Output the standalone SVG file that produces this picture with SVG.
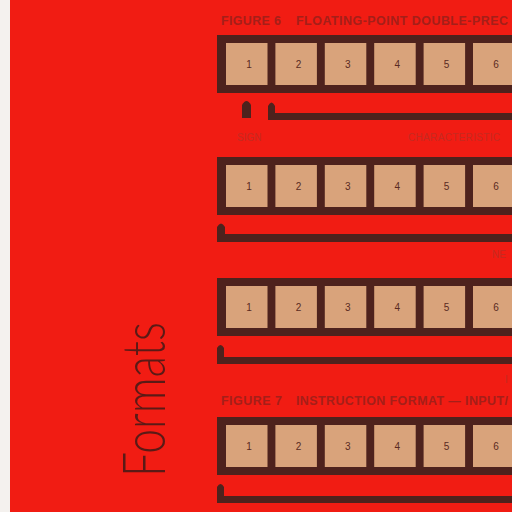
<svg xmlns="http://www.w3.org/2000/svg" width="512" height="512" viewBox="0 0 512 512">
<style>
.frame{fill:#4e221d}
.cell{fill:#d9a37b}
.num{font-family:"Liberation Sans",Arial,sans-serif;font-size:10px;fill:#5a2a22;text-anchor:middle}
.title{font-family:"Liberation Sans",Arial,sans-serif;font-size:12.5px;font-weight:bold;fill:#a51f19}
.lbl{font-family:"Liberation Sans",Arial,sans-serif;font-size:10px;fill:#c62a20}
.conn{fill:#4e221d}
</style>
<defs>
<g id="row">
<rect class="frame" x="217" y="0" width="300" height="58"/>
<rect class="cell" x="226" y="8" width="41.5" height="42"/>
<rect class="cell" x="275.4" y="8" width="41.5" height="42"/>
<rect class="cell" x="324.8" y="8" width="41.5" height="42"/>
<rect class="cell" x="374.2" y="8" width="41.5" height="42"/>
<rect class="cell" x="423.6" y="8" width="41.5" height="42"/>
<rect class="cell" x="473" y="8" width="41.5" height="42"/>
</g>
</defs>
<rect x="0" y="0" width="512" height="512" fill="#f11c13"/>
<rect x="0" y="0" width="10" height="512" fill="#f4f1ee"/>
<text class="title" x="221" y="25" textLength="60">FIGURE 6</text>
<text class="title" x="296" y="25" textLength="212">FLOATING-POINT DOUBLE-PREC</text>
<text class="title" x="221" y="405" textLength="61">FIGURE 7</text>
<text class="title" x="296" y="405" textLength="212">INSTRUCTION FORMAT — INPUT/</text>
<g id="word-formats">
<text transform="translate(165,477) rotate(-90)" font-family="Lato,'Liberation Sans',sans-serif" font-weight="300" font-size="60" fill="#5a1a16" textLength="155" lengthAdjust="spacingAndGlyphs">Formats</text>
</g>
<g id="register-1" transform="translate(0,35)">
<use href="#row"/>
<text class="num" x="249" y="33">1</text><text class="num" x="298.5" y="33">2</text><text class="num" x="347.8" y="33">3</text><text class="num" x="397.2" y="33">4</text><text class="num" x="446.6" y="33">5</text><text class="num" x="496" y="33">6</text>
</g>
<g id="register-2" transform="translate(0,157)">
<use href="#row"/>
<text class="num" x="249" y="33">1</text><text class="num" x="298.5" y="33">2</text><text class="num" x="347.8" y="33">3</text><text class="num" x="397.2" y="33">4</text><text class="num" x="446.6" y="33">5</text><text class="num" x="496" y="33">6</text>
</g>
<g id="register-3" transform="translate(0,278)">
<use href="#row"/>
<text class="num" x="249" y="33">1</text><text class="num" x="298.5" y="33">2</text><text class="num" x="347.8" y="33">3</text><text class="num" x="397.2" y="33">4</text><text class="num" x="446.6" y="33">5</text><text class="num" x="496" y="33">6</text>
</g>
<g id="register-4" transform="translate(0,417)">
<use href="#row"/>
<text class="num" x="249" y="33">1</text><text class="num" x="298.5" y="33">2</text><text class="num" x="347.8" y="33">3</text><text class="num" x="397.2" y="33">4</text><text class="num" x="446.6" y="33">5</text><text class="num" x="496" y="33">6</text>
</g>
<g id="connectors">
<path class="conn" d="M242,118 L242,105 Q246.5,97 251,105 L251,118 Z"/>
<path class="conn" d="M268,120 L268,106 Q271.5,99 275,106 L275,113 L512,113 L512,120 Z"/>
<path class="conn" d="M217,242 L217,227 Q221,220 225,227 L225,234 L512,234 L512,242 Z"/>
<path class="conn" d="M217,364 L217,348 Q220.5,342 224,348 L224,357 L512,357 L512,364 Z"/>
<path class="conn" d="M217,503 L217,487 Q220.5,481 224,487 L224,496 L512,496 L512,503 Z"/>
</g>
<g id="labels">
<text class="lbl" x="237" y="141">SIGN</text>
<text class="lbl" x="408" y="141" textLength="92">CHARACTERISTIC</text>
<text class="lbl" x="492" y="258">NE</text>
<text class="lbl" x="505" y="383">I</text>
</g>
</svg>
